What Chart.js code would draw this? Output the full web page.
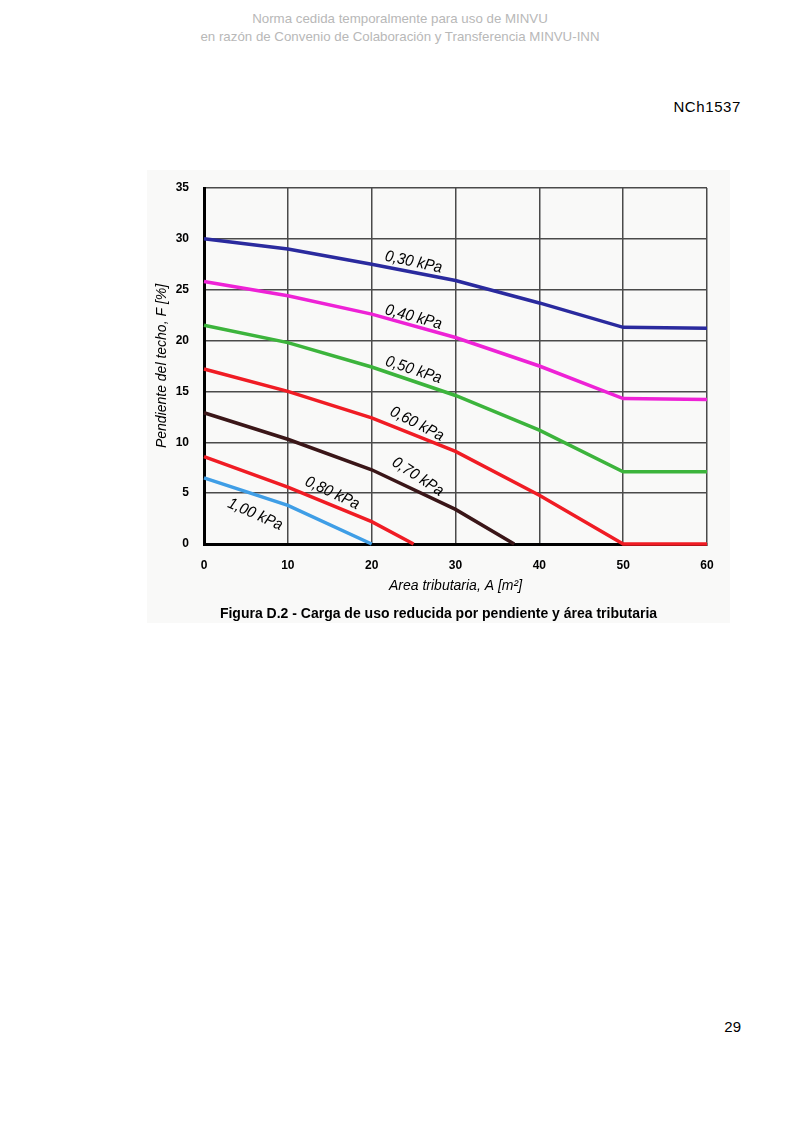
<!DOCTYPE html>
<html lang="es">
<head>
<meta charset="UTF-8">
<title>NCh1537 - Figura D.2</title>
<script src="https://cdn.jsdelivr.net/npm/chart.js"></script>
<style>
  body { margin: 0; background: #fff; }
  .page { position: relative; width: 800px; height: 1131px; font-family: "Liberation Sans", Arial, sans-serif; }
  .header { position: absolute; top: 10px; left: 0; width: 800px; text-align: center; color: #b8b8b8; font-size: 13.3px; line-height: 18px; }
  .code { position: absolute; top: 98px; right: 59px; font-size: 15px; letter-spacing: 0.6px; }
  .pageno { position: absolute; top: 1018px; right: 59px; font-size: 15px; }
  #chart { position: absolute; left: 147px; top: 170px; background: #f9f9f8; }
  .caption { position: absolute; top: 605px; left: 147px; width: 583px; text-align: center; font-weight: bold; font-size: 14px; }
</style>
</head>
<body>
<div class="page">
  <div class="header">Norma cedida temporalmente para uso de MINVU<br>en razón de Convenio de Colaboración y Transferencia MINVU-INN</div>
  <div class="code">NCh1537</div>
  <canvas id="chart" width="583" height="453"></canvas>
  <div class="caption">Figura D.2 - Carga de uso reducida por pendiente y área tributaria</div>
  <div class="pageno">29</div>
</div>

<script>
  // area tributaria (m2) for each curve
  const areaFull = [0, 10, 20, 30, 40, 50, 60];
  const area070 = [0, 10, 20, 30, 37];
  const area080 = [0, 10, 20, 25];
  const area100 = [0, 10, 20];

  // pendiente del techo F (%)
  const f030 = [30.0, 29.0, 27.5, 25.9, 23.7, 21.3, 21.2];
  const f040 = [25.8, 24.4, 22.6, 20.3, 17.5, 14.3, 14.2];
  const f050 = [21.5, 19.8, 17.4, 14.6, 11.2, 7.1, 7.1];
  const f060 = [17.2, 15.0, 12.4, 9.1, 4.8, 0, 0];
  const f070 = [12.9, 10.3, 7.3, 3.4, 0];
  const f080 = [8.6, 5.6, 2.2, 0];
  const f100 = [6.5, 3.8, 0];

  const xTicks = [0, 10, 20, 30, 40, 50, 60];
  const yTicks = [0, 5, 10, 15, 20, 25, 30, 35];

  // curve labels, anchored in data units
  const curveLabels = ['0,30 kPa', '0,40 kPa', '0,50 kPa', '0,60 kPa', '0,70 kPa', '0,80 kPa', '1,00 kPa'];
  const labelArea = [25.0, 25.0, 25.0, 25.4, 25.5, 15.3, 6.1];
  const labelSlope = [27.7, 22.3, 17.1, 11.8, 6.6, 5.0, 2.9];
  const labelAngle = [12, 15, 18, 27, 33, 25, 24];

  function pts(xs, ys) {
    return xs.map((x, i) => ({ x: x, y: ys[i] }));
  }

  function curve(xs, ys, color) {
    return {
      data: pts(xs, ys),
      borderColor: color,
      borderWidth: 3.5,
      pointRadius: 0,
      tension: 0,
      fill: false,
      clip: 6
    };
  }

  const tickFont = { family: '"Liberation Sans", sans-serif', size: 12, weight: 'bold' };
  const titleFont = { family: '"Liberation Sans", sans-serif', size: 14, style: 'italic' };

  const curveLabelPlugin = {
    id: 'curveLabels',
    afterDatasetsDraw(chart) {
      const ctx = chart.ctx;
      const xs = chart.scales.x, ys = chart.scales.y;
      ctx.save();
      ctx.fillStyle = '#000';
      ctx.font = 'italic 16px "Liberation Sans", sans-serif';
      ctx.textAlign = 'center';
      ctx.textBaseline = 'middle';
      curveLabels.forEach((txt, i) => {
        ctx.save();
        ctx.translate(xs.getPixelForValue(labelArea[i]), ys.getPixelForValue(labelSlope[i]));
        ctx.rotate(labelAngle[i] * Math.PI / 180);
        ctx.scale(0.92, 1);
        ctx.fillText(txt, 0, 0);
        ctx.restore();
      });
      ctx.restore();
    }
  };

  new Chart(document.getElementById('chart'), {
    type: 'line',
    data: {
      datasets: [
        curve(areaFull, f030, '#2a2a9e'),
        curve(areaFull, f040, '#ee22d6'),
        curve(areaFull, f050, '#3cb43c'),
        curve(areaFull, f060, '#f01c24'),
        curve(area070, f070, '#3a1618'),
        curve(area080, f080, '#f01c24'),
        curve(area100, f100, '#3f9ee6')
      ]
    },
    options: {
      responsive: false,
      animation: false,
      layout: { padding: { top: 18, right: 23, left: 0, bottom: 0 } },
      plugins: {
        legend: { display: false },
        tooltip: { enabled: false }
      },
      scales: {
        x: {
          type: 'linear',
          min: 0,
          max: 60,
          afterFit(s) { s.height = 79; s.paddingLeft = 0; s.paddingRight = 0; },
          afterBuildTicks(s) { s.ticks = xTicks.map(v => ({ value: v })); },
          grid: { color: '#4a4a4a', lineWidth: 1.5, drawTicks: false },
          border: { color: '#000', width: 3 },
          ticks: { color: '#000', font: tickFont, padding: 14, maxRotation: 0 },
          title: {
            display: true,
            text: 'Area tributaria, A [m²]',
            color: '#000',
            font: titleFont,
            padding: { top: 0, bottom: 28 }
          }
        },
        y: {
          min: 0,
          max: 35,
          afterFit(s) { s.width = 57; s.paddingTop = 0; s.paddingBottom = 0; },
          afterBuildTicks(s) { s.ticks = yTicks.map(v => ({ value: v })); },
          grid: { color: '#4a4a4a', lineWidth: 1.5, drawTicks: false },
          border: { color: '#000', width: 3 },
          ticks: { color: '#000', font: tickFont, padding: 15 },
          title: {
            display: true,
            text: 'Pendiente del techo, F [%]',
            color: '#000',
            font: titleFont,
            padding: { top: 7, bottom: 0 }
          }
        }
      }
    },
    plugins: [curveLabelPlugin]
  });
</script>
</body>
</html>
